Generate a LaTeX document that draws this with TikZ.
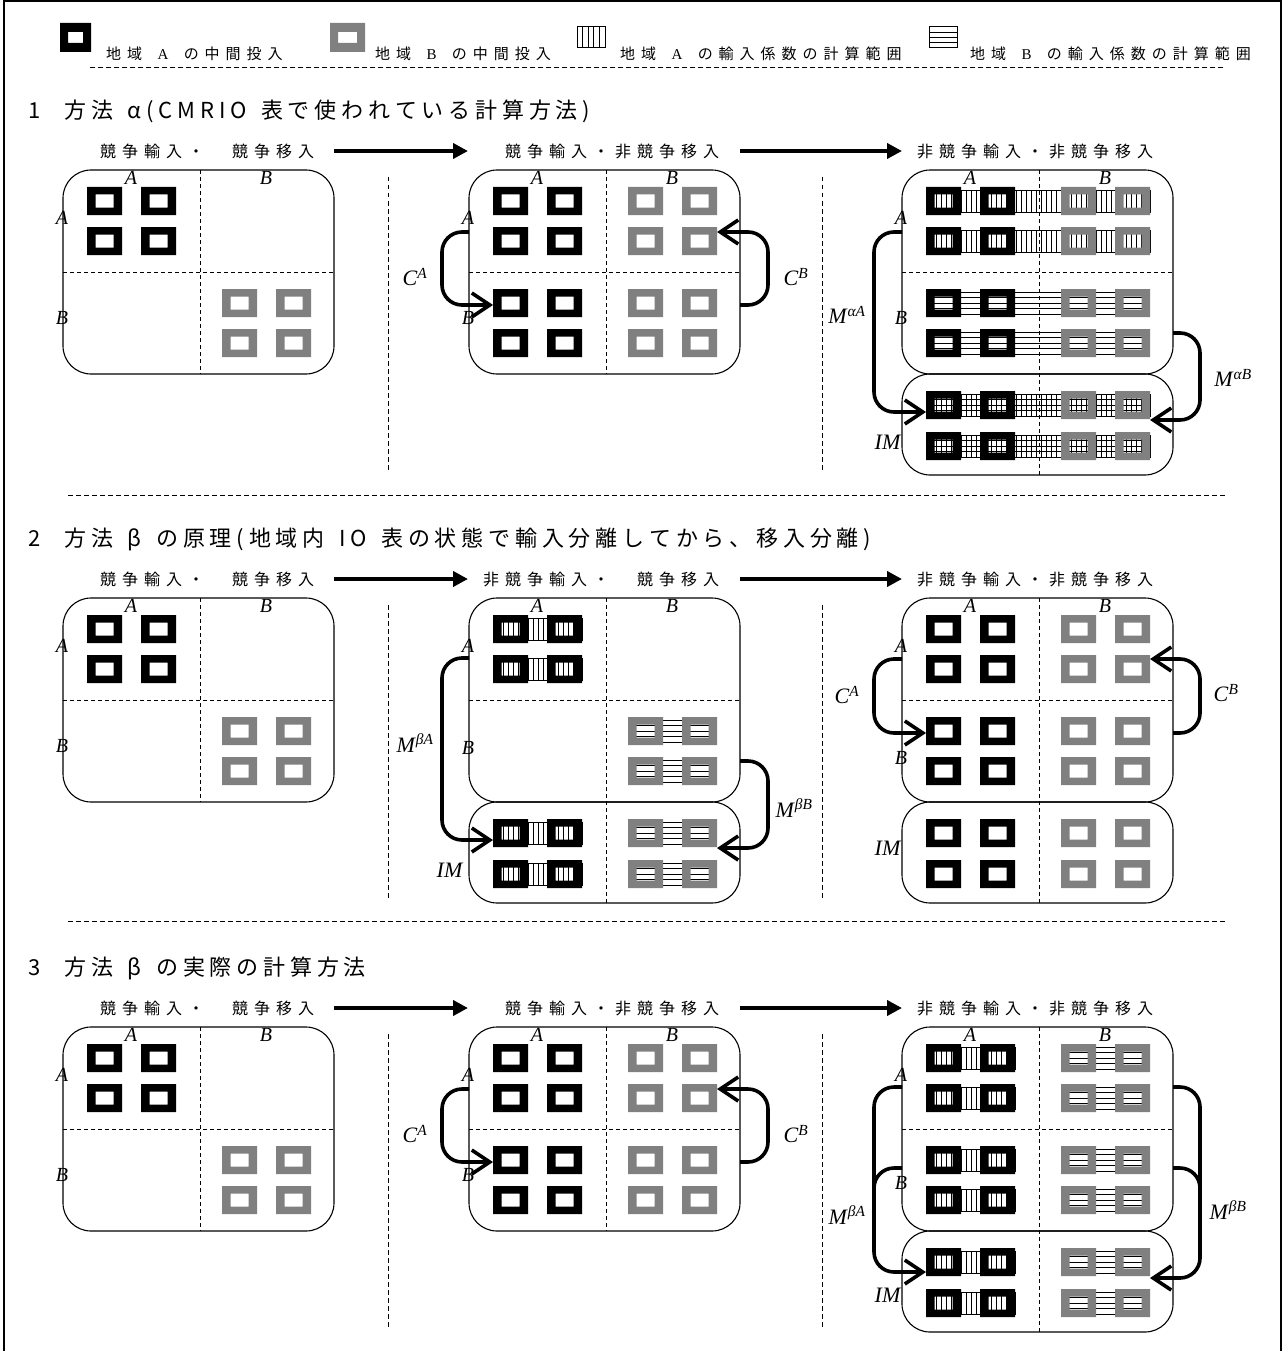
\documentclass[tikz,border=0pt]{standalone}
\usepackage{fontspec}
\setmainfont{Liberation Serif}
\newfontfamily\jp{Noto Sans CJK JP}
\usetikzlibrary{arrows.meta}
\definecolor{gry}{RGB}{128,128,128}
\makeatletter
\newcommand\spread[2]{\def\sp@gap{#1}\sp@loop#2\sp@end}
\def\sp@loop#1{\ifx#1\sp@end\unskip\else#1\hskip\sp@gap\relax\expandafter\sp@loop\fi}
\makeatother
\newcommand\LA{{\rmfamily A}}
\newcommand\LB{{\rmfamily B}}
\newcommand\supl[2]{\textit{#1}\textsuperscript{\textit{#2}}}
\tikzset{
 panel/.style={line width=1.1pt, rounded corners=28pt},
 divd/.style={line width=0.9pt, dash pattern=on 4pt off 3pt},
 sep/.style={line width=0.9pt, dash pattern=on 4.5pt off 3.5pt},
 conn/.style={line width=3.6pt, rounded corners=20pt, -{Straight Barb[length=18pt,width=24pt]}},
 connb/.style={line width=3.6pt, rounded corners=20pt},
 flow/.style={line width=4pt, -{Triangle[length=15pt,width=15pt]}},
 ttl/.style={anchor=west, inner sep=0pt, font=\jp\fontsize{16}{16}\selectfont},
 leg/.style={anchor=west, inner sep=0pt, font=\jp\fontsize{15}{15}\selectfont},
 hd/.style={anchor=west, inner sep=0pt, font=\jp\fontsize{22}{22}\selectfont},
 lbl/.style={inner sep=0pt, font=\fontsize{20}{20}\selectfont\itshape},
 lblb/.style={inner sep=0pt, font=\fontsize{22}{22}\selectfont},
 hl/.style={line width=0.95pt},
}
\newcommand\bsq[2]{\fill[black,even odd rule] (#1,#2) rectangle ++(35,28) (#1+8.5,#2+7.5) rectangle ++(18,13);}
\newcommand\gsq[2]{\fill[gry,even odd rule] (#1,#2) rectangle ++(35,28) (#1+8.5,#2+7.5) rectangle ++(18,13);}
\newcommand\bpair[2]{\bsq{#1+24}{#2}\bsq{#1+78}{#2}}
\newcommand\gpair[2]{\gsq{#1+159}{#2}\gsq{#1+213}{#2}}
\newcommand\rowall[2]{\bpair{#1}{#2}\gpair{#1}{#2}}
\newcommand\vh[3]{%
 \draw[hl] (#1,#3+3) rectangle (#2,#3+25);
 \pgfmathtruncatemacro\nn{(#2-(#1))/5}%
 \foreach \k in {1,...,\nn}{\draw[hl] (#1+\k*5,#3+3) -- ++(0,22);}}
\newcommand\hh[3]{\foreach \j in {0,...,4}{\draw[hl] (#1,#3+3+\j*5.5) -- (#2,#3+3+\j*5.5);}}
\newcommand\pbox[2]{%
 \draw[panel] (#1,170) rectangle ++(271,204);
 \draw[divd] (#1+137,170) -- ++(0,#2);
 \draw[divd] (#1,272) -- ++(271,0);}
\newcommand\pim[1]{\draw[panel] (#1,374) rectangle ++(271,101);}
\newcommand\plabels[3]{%
 \node[lbl] (#2tA) at (#1+68,178) {A};
 \node[lbl] (#2tB) at (#1+203,178) {B};
 \node[lbl] (#2lA) at (#1-1,218) {A};
 \node[lbl] (#2lB) at (#1-1,#3) {B};}
\newcommand\seps[1]{%
 \draw[sep] (388,177) -- (388,473);
 \draw[sep] (822,177) -- (822,473);
 \coordinate (#1f1s) at (334,151); \coordinate (#1f1e) at (468,151);
 \coordinate (#1f2s) at (740,151); \coordinate (#1f2e) at (902,151);
 \draw[flow] (#1f1s) -- (#1f1e);
 \draw[flow] (#1f2s) -- (#1f2e);}
\newcommand\panelone[1]{%
 \pbox{63}{204}
 \bpair{63}{187}\bpair{63}{227}\gpair{63}{289}\gpair{63}{329}
 \plabels{63}{#1p1}{318}
 \node[ttl] (#1t1) at (100,151) {\spread{6pt}{競争輸入・　競争移入}};}
\newcommand\paneltwo[1]{%
 \pbox{469}{204}
 \foreach \r in {187,227,289,329}{\rowall{469}{\r}}
 \plabels{469}{#1p2}{318}
 \node[ttl] (#1t2) at (505,151) {\spread{6pt}{競争輸入・非競争移入}};
 \coordinate (#1CAs) at (469,232); \coordinate (#1CAt) at (493,305);
 \coordinate (#1CBs) at (740,305); \coordinate (#1CBt) at (717,232);
 \draw[conn] (#1CAs) -- ++(-27,0) |- (#1CAt);
 \draw[conn] (#1CBs) -- ++(28,0) |- (#1CBt);
 \node[lblb] (#1CA) at (415,277) {\supl{C}{A}};
 \node[lblb] (#1CB) at (796,277) {\supl{C}{B}};}
\begin{document}
\begin{tikzpicture}[x=1pt,y=-1pt]
\useasboundingbox (0,0) rectangle (1284,1351);
\fill[white] (0,0) rectangle (1284,1351);
\draw[line width=2pt] (4,1351) -- (4,1) -- (1281,1) -- (1281,1351);
% legend
\fill[black,even odd rule] (60,23) rectangle (91,52) (68,32) rectangle (83,43);
\node[leg] (lg1) at (106,54) {\spread{6pt}{地域~\LA~の中間投入}};
\fill[gry,even odd rule] (330,23) rectangle (365,52) (338,32) rectangle (357,43);
\node[leg] (lg2) at (375,54) {\spread{6pt}{地域~\LB~の中間投入}};
\draw[line width=1pt] (577,27) rectangle (605,48);
\foreach \k in {1,...,4}{\draw[line width=1pt] (577+\k*5.6,27) -- ++(0,21);}
\node[leg] (lg3) at (620,54) {\spread{6pt}{地域~\LA~の輸入係数の計算範囲}};
\draw[line width=1pt] (929,27) rectangle (957,48);
\foreach \k in {1,...,3}{\draw[line width=1pt] (929,27+\k*5.25) -- ++(28,0);}
\node[leg] (lg4) at (970,54) {\spread{6pt}{地域~\LB~の輸入係数の計算範囲}};
\draw[sep] (90,67) -- (1225,67);
% ================= Section 1
\node[hd] (h1) at (28,111) {\spread{4.8pt}{1~~方法~α(CMRIO~表で使われている計算方法)}};
\seps{s1}
\panelone{s1}
\paneltwo{s1}
% panel 3
\pbox{902}{305}\pim{902}
\foreach \r in {187,227}{\vh{926}{1150}{\r}}
\foreach \r in {289,329}{\hh{926}{1150}{\r}}
\foreach \r in {391,432}{\vh{926}{1150}{\r}\hh{926}{1150}{\r}}
\foreach \r in {187,227,289,329,391,432}{\rowall{902}{\r}}
\plabels{902}{s1p3}{318}
\node[lblb] (s1IM) at (888,442) {\textit{IM}};
\node[ttl] (s1t3) at (917,151) {\spread{6pt}{非競争輸入・非競争移入}};
\coordinate (s1MAs) at (902,232); \coordinate (s1MAt) at (926,412);
\coordinate (s1MBs) at (1173,333); \coordinate (s1MBt) at (1150,420);
\draw[conn] (s1MAs) -- ++(-28,0) |- (s1MAt);
\draw[conn] (s1MBs) -- ++(27,0) |- (s1MBt);
\node[lblb] (s1MA) at (847,315) {\supl{M}{αA}};
\node[lblb] (s1MB) at (1233,378) {\supl{M}{αB}};
\draw[sep] (68,495) -- (1225,495);
% ================= Section 2
\begin{scope}[yshift=-428pt]
\node[hd] (h2) at (28,111) {\spread{4.8pt}{2~~方法~β~の原理(地域内~IO~表の状態で輸入分離してから、移入分離)}};
\seps{s2}
\panelone{s2}
% panel 2
\pbox{469}{305}\pim{469}
\foreach \r in {187,227,391,432}{\vh{493}{582}{\r}}
\foreach \r in {289,329,391,432}{\hh{628}{717}{\r}}
\foreach \r in {187,227,391,432}{\bpair{469}{\r}}
\foreach \r in {289,329,391,432}{\gpair{469}{\r}}
\plabels{469}{s2p2}{320}
\node[lblb] (s2IM1) at (450,442) {\textit{IM}};
\node[ttl] (s2t2) at (483,151) {\spread{6pt}{非競争輸入・　競争移入}};
\coordinate (s2MAs) at (469,230); \coordinate (s2MAt) at (493,412);
\coordinate (s2MBs) at (740,333); \coordinate (s2MBt) at (717,420);
\draw[conn] (s2MAs) -- ++(-27,0) |- (s2MAt);
\draw[conn] (s2MBs) -- ++(28,0) |- (s2MBt);
\node[lblb] (s2MA) at (415,315) {\supl{M}{βA}};
\node[lblb] (s2MB) at (794,380) {\supl{M}{βB}};
% panel 3
\pbox{902}{305}\pim{902}
\foreach \r in {187,227,289,329,391,432}{\rowall{902}{\r}}
\plabels{902}{s2p3}{330}
\node[lblb] (s2IM2) at (888,420) {\textit{IM}};
\node[ttl] (s2t3) at (917,151) {\spread{6pt}{非競争輸入・非競争移入}};
\coordinate (s2CAs) at (902,231); \coordinate (s2CAt) at (926,305);
\coordinate (s2CBs) at (1173,305); \coordinate (s2CBt) at (1150,231);
\draw[conn] (s2CAs) -- ++(-28,0) |- (s2CAt);
\draw[conn] (s2CBs) -- ++(27,0) |- (s2CBt);
\node[lblb] (s2CA) at (847,267) {\supl{C}{A}};
\node[lblb] (s2CB) at (1226,265) {\supl{C}{B}};
\draw[sep] (68,493) -- (1225,493);
\end{scope}
% ================= Section 3
\begin{scope}[yshift=-857pt]
\node[hd] (h3) at (28,111) {\spread{4.8pt}{3~~方法~β~の実際の計算方法}};
\seps{s3}
\panelone{s3}
\paneltwo{s3}
% panel 3
\pbox{902}{305}\pim{902}
\foreach \r in {187,227,289,329,391,432}{\vh{926}{1015}{\r}\hh{1061}{1150}{\r}}
\foreach \r in {187,227,289,329,391,432}{\rowall{902}{\r}}
\plabels{902}{s3p3}{326}
\node[lblb] (s3IM) at (888,438) {\textit{IM}};
\node[ttl] (s3t3) at (917,151) {\spread{6pt}{非競争輸入・非競争移入}};
\coordinate (s3MAs) at (902,230); \coordinate (s3MAs2) at (902,311); \coordinate (s3MAt) at (926,415);
\coordinate (s3MBs) at (1173,230); \coordinate (s3MBs2) at (1173,311); \coordinate (s3MBt) at (1150,421);
\draw[conn] (s3MAs) -- ++(-28,0) |- (s3MAt);
\draw[connb] (s3MAs2) -- ++(-28,0) -- ++(0,40);
\draw[conn] (s3MBs) -- ++(27,0) |- (s3MBt);
\draw[connb] (s3MBs2) -- ++(27,0) -- ++(0,40);
\node[lblb] (s3MA) at (847,358) {\supl{M}{βA}};
\node[lblb] (s3MB) at (1228,353) {\supl{M}{βB}};
\end{scope}
\end{tikzpicture}
\end{document}
